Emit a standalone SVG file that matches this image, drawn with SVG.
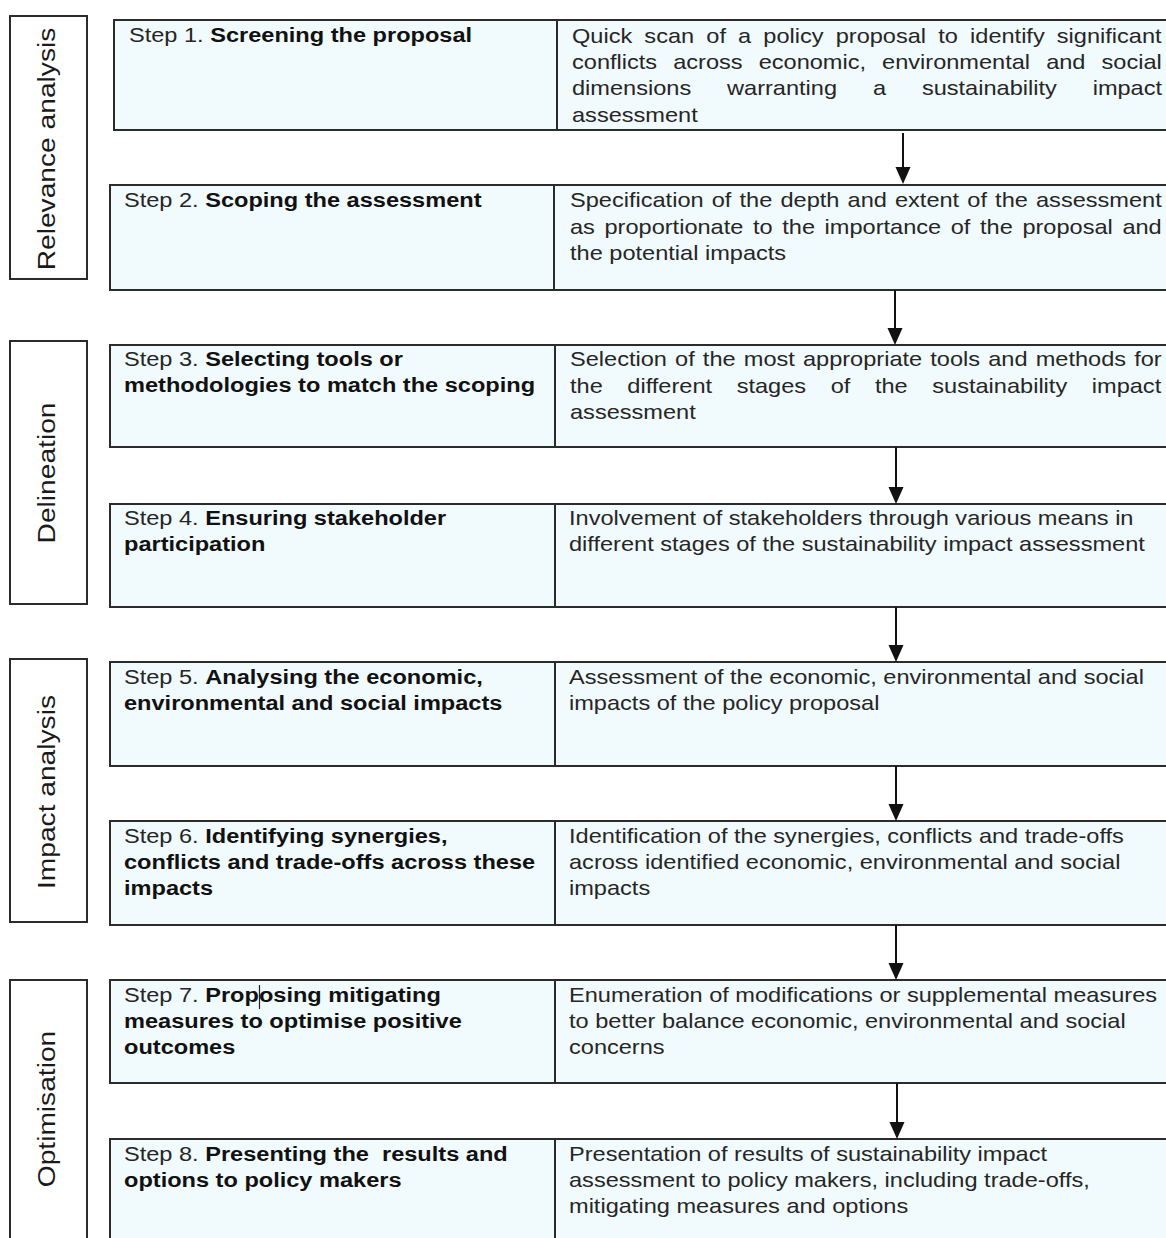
<svg xmlns="http://www.w3.org/2000/svg" width="1166" height="1238" viewBox="0 0 1166 1238">
  <defs>
    <marker id="ah" markerUnits="userSpaceOnUse" markerWidth="18" markerHeight="16" refX="7" refY="7.5" orient="auto">
      <path d="M0,0 L17,7.5 L0,15 Z" fill="#111"/>
    </marker>
    <style>
      .row{fill:#f1fafc;stroke:#2b2b2b;stroke-width:2}
      .lab{fill:#fff;stroke:#2b2b2b;stroke-width:2}
      .div{stroke:#2b2b2b;stroke-width:2}
      text{font-family:"Liberation Sans",Arial,sans-serif}
      .t{font-size:20.5px;fill:#262626}
      .b{font-weight:bold;fill:#111}
      .g{font-size:24.5px;fill:#1a1a1a;text-anchor:middle}
      .arr{stroke:#111;stroke-width:2;fill:none;marker-end:url(#ah)}
    </style>
  </defs>
  <rect width="1166" height="1238" fill="#fff"/>

  <!-- phase labels -->
  <g id="phase-relevance">
    <rect class="lab" x="10" y="16" width="77" height="263"/>
    <text class="g" transform="translate(55 149) rotate(-90) scale(1.15 1)">Relevance analysis</text>
  </g>
  <g id="phase-delineation">
    <rect class="lab" x="10" y="341" width="77" height="263"/>
    <text class="g" transform="translate(55 473) rotate(-90) scale(1.15 1)">Delineation</text>
  </g>
  <g id="phase-impact">
    <rect class="lab" x="10" y="659" width="77" height="263"/>
    <text class="g" transform="translate(55 792) rotate(-90) scale(1.15 1)">Impact analysis</text>
  </g>
  <g id="phase-optimisation">
    <rect class="lab" x="10" y="980" width="77" height="270"/>
    <text class="g" transform="translate(55 1109) rotate(-90) scale(1.15 1)">Optimisation</text>
  </g>

  <!-- steps -->
  <g id="step1">
    <rect class="row" x="114" y="20" width="1060" height="110"/>
    <line class="div" x1="557" y1="20" x2="557" y2="130"/>
    <text class="t" transform="translate(129 42) scale(1.15 1)">Step 1. <tspan class="b">Screening the proposal</tspan></text>
    <text class="t" transform="translate(572 43) scale(1.15 1)" word-spacing="4.87">Quick scan of a policy proposal to identify significant</text>
    <text class="t" transform="translate(572 69) scale(1.15 1)" word-spacing="8.28">conflicts across economic, environmental and social</text>
    <text class="t" transform="translate(572 95) scale(1.15 1)" word-spacing="25.5">dimensions warranting a sustainability impact</text>
    <text class="t" transform="translate(572 121.5) scale(1.15 1)">assessment</text>
  </g>

  <g id="step2">
    <rect class="row" x="110" y="185" width="1064" height="105"/>
    <line class="div" x1="554" y1="185" x2="554" y2="290"/>
    <text class="t" transform="translate(124 207) scale(1.15 1)">Step 2. <tspan class="b">Scoping the assessment</tspan></text>
    <text class="t" transform="translate(570 207) scale(1.15 1)" word-spacing="1.39">Specification of the depth and extent of the assessment</text>
    <text class="t" transform="translate(570 233.5) scale(1.15 1)" word-spacing="2.67">as proportionate to the importance of the proposal and</text>
    <text class="t" transform="translate(570 260) scale(1.15 1)">the potential impacts</text>
  </g>

  <g id="step3">
    <rect class="row" x="110" y="345" width="1064" height="102"/>
    <line class="div" x1="555" y1="345" x2="555" y2="447"/>
    <text class="t" transform="translate(124 366) scale(1.15 1)">Step 3. <tspan class="b">Selecting tools or</tspan><tspan class="b" x="0" dy="26.5">methodologies to match the scoping</tspan></text>
    <text class="t" transform="translate(570 366) scale(1.15 1)" word-spacing="1.39">Selection of the most appropriate tools and methods for</text>
    <text class="t" transform="translate(570 392.5) scale(1.15 1)" word-spacing="15.7">the different stages of the sustainability impact</text>
    <text class="t" transform="translate(570 419) scale(1.15 1)">assessment</text>
  </g>

  <g id="step4">
    <rect class="row" x="110" y="504" width="1064" height="103"/>
    <line class="div" x1="555" y1="504" x2="555" y2="607"/>
    <text class="t" transform="translate(124 525) scale(1.15 1)">Step 4. <tspan class="b">Ensuring stakeholder</tspan><tspan class="b" x="0" dy="26.5">participation</tspan></text>
    <text class="t" transform="translate(569 525) scale(1.15 1)">Involvement of stakeholders through various means in<tspan x="0" dy="26.5">different stages of the sustainability impact assessment</tspan></text>
  </g>

  <g id="step5">
    <rect class="row" x="110" y="662" width="1064" height="104"/>
    <line class="div" x1="555" y1="662" x2="555" y2="766"/>
    <text class="t" transform="translate(124 683.5) scale(1.15 1)">Step 5. <tspan class="b">Analysing the economic,</tspan><tspan class="b" x="0" dy="26.5">environmental and social impacts</tspan></text>
    <text class="t" transform="translate(569 683.5) scale(1.15 1)">Assessment of the economic, environmental and social<tspan x="0" dy="26.5">impacts of the policy proposal</tspan></text>
  </g>

  <g id="step6">
    <rect class="row" x="110" y="821" width="1064" height="104"/>
    <line class="div" x1="555" y1="821" x2="555" y2="925"/>
    <text class="t" transform="translate(124 842.5) scale(1.15 1)">Step 6. <tspan class="b">Identifying synergies,</tspan><tspan class="b" x="0" dy="26.5">conflicts and trade-offs across these</tspan><tspan class="b" x="0" dy="26.5">impacts</tspan></text>
    <text class="t" transform="translate(569 842.5) scale(1.15 1)">Identification of the synergies, conflicts and trade-offs<tspan x="0" dy="26.5">across identified economic, environmental and social</tspan><tspan x="0" dy="26.5">impacts</tspan></text>
  </g>

  <g id="step7">
    <rect class="row" x="110" y="980" width="1064" height="103"/>
    <line class="div" x1="555" y1="980" x2="555" y2="1083"/>
    <text class="t" transform="translate(124 1001.5) scale(1.15 1)">Step 7. <tspan class="b">Proposing mitigating</tspan><tspan class="b" x="0" dy="26.5">measures to optimise positive</tspan><tspan class="b" x="0" dy="26.5">outcomes</tspan></text>
    <line x1="259.5" y1="985" x2="259.5" y2="1009" stroke="#222" stroke-width="1.2"/>
    <text class="t" transform="translate(569 1001.5) scale(1.15 1)">Enumeration of modifications or supplemental measures<tspan x="0" dy="26.5">to better balance economic, environmental and social</tspan><tspan x="0" dy="26.5">concerns</tspan></text>
  </g>

  <g id="step8">
    <rect class="row" x="110" y="1139" width="1064" height="120"/>
    <line class="div" x1="555" y1="1139" x2="555" y2="1259"/>
    <text class="t" transform="translate(124 1160.5) scale(1.15 1)" xml:space="preserve">Step 8. <tspan class="b">Presenting the  results and</tspan><tspan class="b" x="0" dy="26.5">options to policy makers</tspan></text>
    <text class="t" transform="translate(569 1160.5) scale(1.15 1)">Presentation of results of sustainability impact<tspan x="0" dy="26.5">assessment to policy makers, including trade-offs,</tspan><tspan x="0" dy="26.5">mitigating measures and options</tspan></text>
  </g>

  <!-- flow arrows between steps -->
  <g id="connectors">
    <line class="arr" x1="903" y1="133" x2="903" y2="174"/>
    <line class="arr" x1="895" y1="290" x2="895" y2="335"/>
    <line class="arr" x1="896" y1="447" x2="896" y2="494"/>
    <line class="arr" x1="896" y1="607" x2="896" y2="652"/>
    <line class="arr" x1="896" y1="766" x2="896" y2="811"/>
    <line class="arr" x1="896" y1="925" x2="896" y2="970"/>
    <line class="arr" x1="897" y1="1083" x2="897" y2="1129"/>
  </g>
</svg>
